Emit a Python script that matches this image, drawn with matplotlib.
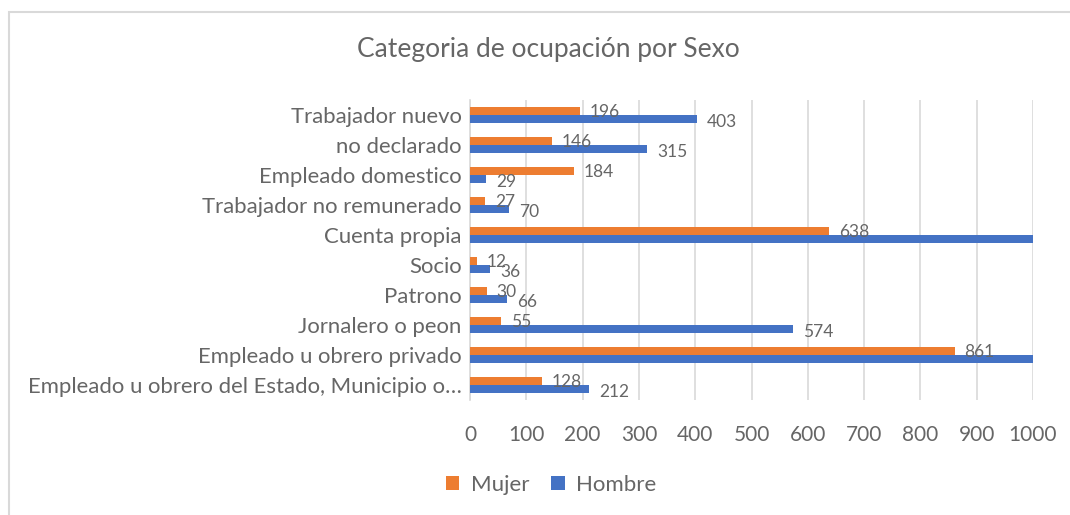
import matplotlib.pyplot as plt
import numpy as np
from matplotlib.patches import Rectangle

plt.rcParams["font.family"] = ["Lato", "DejaVu Sans"]

# data, top category first as in the picture
categorias = [
    "Trabajador nuevo",
    "no declarado",
    "Empleado domestico",
    "Trabajador no remunerado",
    "Cuenta propia",
    "Socio",
    "Patrono",
    "Jornalero o peon",
    "Empleado u obrero privado",
    "Empleado u obrero del Estado, Municipio o…",
]
mujer = [196, 146, 184, 27, 638, 12, 30, 55, 861, 128]
# the two Hombre bars that run past 1000 have no visible label; estimated
hombre = [403, 315, 29, 70, 1250, 36, 66, 574, 1300, 212]
ticks_x = list(range(0, 1001, 100))

NARANJA = "#ED7D31"
AZUL = "#4472C4"
GRIS = "#666666"
GRID = "#D9D9D9"

fig = plt.figure(figsize=(10.7, 5.15), dpi=100)
ax = fig.add_axes([470 / 1070, 1 - 400 / 515, (1033 - 470) / 1070, 300 / 515])

y = np.arange(len(categorias))
h = 0.26
ax.barh(y - h / 2, mujer, height=h, color=NARANJA, label="Mujer", zorder=3)
ax.barh(y + h / 2, hombre, height=h, color=AZUL, label="Hombre", zorder=3)

xmax = 1000
for yi, v in zip(y, mujer):
    if v <= xmax:
        ax.text(v + 17, yi - h / 2 + 0.02, str(v), va="center", ha="left",
                fontsize=12.5, color=GRIS, zorder=4)
for yi, v in zip(y, hombre):
    if v <= xmax:
        ax.text(v + 17, yi + h / 2 + 0.1, str(v), va="center", ha="left",
                fontsize=12.5, color=GRIS, zorder=4)

ax.set_xlim(0, xmax)
ax.set_ylim(len(categorias) - 0.5, -0.5)
ax.set_yticks(y)
ax.set_yticklabels(categorias)
ax.set_xticks(ticks_x)
ax.tick_params(axis="y", length=0, pad=6, labelsize=15.9, labelcolor=GRIS)
ax.tick_params(axis="x", length=0, pad=18, labelsize=15, labelcolor=GRIS)
ax.grid(axis="x", color=GRID, linewidth=1.2, zorder=0)
for s in ["top", "right", "bottom"]:
    ax.spines[s].set_visible(False)
ax.spines["left"].set_color(GRID)
ax.spines["left"].set_linewidth(1.2)

fig.text(548 / 1070, 1 - 50 / 515, "Categoria de ocupación por Sexo",
         ha="center", va="center", fontsize=19, color=GRIS)

fig.legend(loc="center", bbox_to_anchor=(551 / 1070, 1 - 485 / 515), ncol=2,
           frameon=False, fontsize=16, labelcolor=GRIS, handlelength=0.6,
           handleheight=0.6, columnspacing=1.0, handletextpad=0.5)

# chart border (cropped on the right and bottom)
fig.patches.append(Rectangle((9 / 1070, -0.1), 1.2, 1 - 12 / 515 + 0.1,
                             transform=fig.transFigure, fill=False,
                             edgecolor=GRID, linewidth=1.5))

fig.savefig("out.png", dpi=100)
